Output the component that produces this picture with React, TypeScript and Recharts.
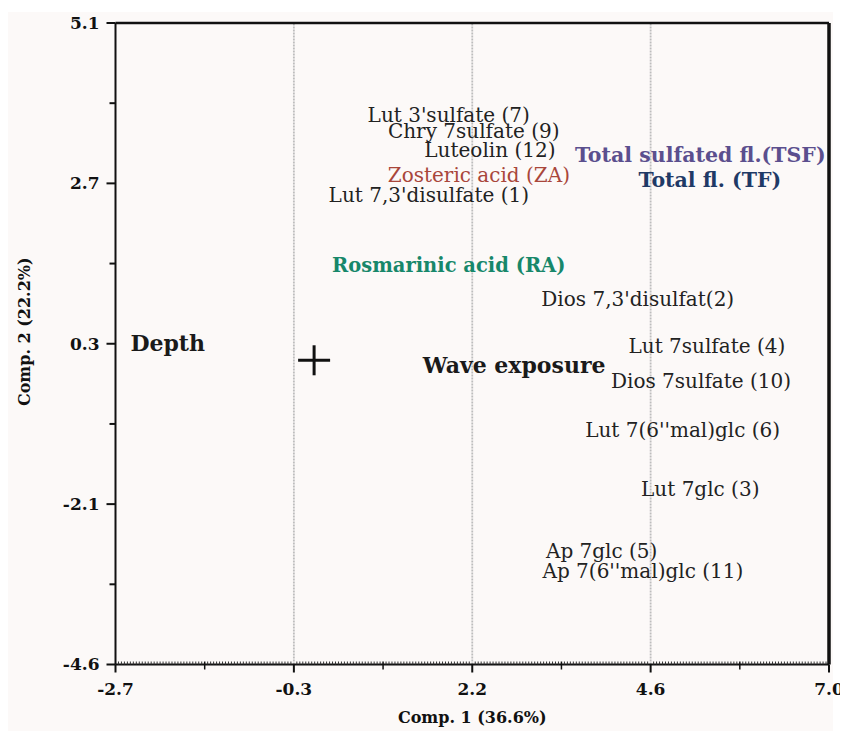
import React from 'react';
import { ScatterChart, Scatter, XAxis, YAxis, ReferenceLine, Label } from 'recharts';

// PCA loadings: compound / variable names with their Comp. 1 and Comp. 2 scores
const variables = [
  "Lut 3'sulfate (7)",
  'Chry 7sulfate (9)',
  'Luteolin (12)',
  'Zosteric acid (ZA)',
  "Lut 7,3'disulfate (1)",
  'Total sulfated fl.(TSF)',
  'Total fl. (TF)',
  'Rosmarinic acid (RA)',
  "Dios 7,3'disulfat(2)",
  'Depth',
  'Wave exposure',
  'Lut 7sulfate (4)',
  'Dios 7sulfate (10)',
  "Lut 7(6''mal)glc (6)",
  'Lut 7glc (3)',
  'Ap 7glc (5)',
  "Ap 7(6''mal)glc (11)",
];
const comp1 = [1.83, 2.17, 2.39, 2.24, 1.56, 5.25, 5.38, 1.83, 4.4, -1.99, 2.72, 5.34, 5.26, 5.01, 5.25, 3.91, 4.47];
const comp2 = [3.71, 3.47, 3.18, 2.8, 2.5, 3.11, 2.73, 1.44, 0.93, 0.25, -0.08, 0.21, -0.32, -1.06, -1.95, -2.88, -3.18];

const origin = [{ x: 0, y: 0 }];

const xTicks = [-2.7, -0.275, 2.15, 4.575, 7.0];
const xTickLabels = ['-2.7', '-0.3', '2.2', '4.6', '7.0'];
const yTicks = [-4.6, -2.175, 0.25, 2.675, 5.1];
const yTickLabels = ['-4.6', '-2.1', '0.3', '2.7', '5.1'];

// label styling (colour / weight / size) by name
const labelStyle: Record<string, { fill: string; bold?: boolean; size?: number }> = {
  'Zosteric acid (ZA)': { fill: '#a9463b' },
  'Total sulfated fl.(TSF)': { fill: '#5b4f8e', bold: true, size: 20.5 },
  'Total fl. (TF)': { fill: '#1f3a66', bold: true, size: 20.5 },
  'Rosmarinic acid (RA)': { fill: '#17876a', bold: true, size: 19.5 },
  Depth: { fill: '#1a1a1a', bold: true, size: 22 },
  'Wave exposure': { fill: '#1a1a1a', bold: true, size: 22 },
};

const FONT = "'DejaVu Serif', serif";

const points = variables.map((name, i) => ({ name, x: comp1[i], y: comp2[i] }));

// axis tick positions: majors plus small subdivisions
const subdivide = (majors: number[], n: number) => {
  const out: number[] = [];
  for (let i = 0; i < majors.length - 1; i++) {
    out.push(majors[i]);
    const step = (majors[i + 1] - majors[i]) / n;
    for (let k = 1; k < n; k++) out.push(majors[i] + k * step);
  }
  out.push(majors[majors.length - 1]);
  return out;
};
const X_SUB = 60;
const xAllTicks = subdivide(xTicks, X_SUB);
const yAllTicks = subdivide(yTicks, 2);

const XTick = (props: any) => {
  const { x, y, payload, index } = props;
  const i = xTicks.indexOf(payload.value);
  if (i >= 0) {
    return (
      <g>
        <line x1={x} x2={x} y1={y} y2={y + 8} stroke="#111" strokeWidth={2} />
        <text x={x} y={y + 30} textAnchor="middle" fontFamily={FONT} fontWeight="bold" fontSize={17} fill="#111">
          {xTickLabels[i]}
        </text>
      </g>
    );
  }
  if (index % X_SUB === X_SUB / 2) {
    return <line x1={x} x2={x} y1={y - 3} y2={y + 5} stroke="#111" strokeWidth={1.5} />;
  }
  return <line x1={x} x2={x} y1={y - 3} y2={y} stroke="#333" strokeWidth={1} />;
};

const YTick = (props: any) => {
  const { x, y, payload } = props;
  const i = yTicks.indexOf(payload.value);
  if (i >= 0) {
    return (
      <g>
        <line x1={x - 9} x2={x} y1={y} y2={y} stroke="#111" strokeWidth={2} />
        <text x={x - 16} y={y} dy="0.35em" textAnchor="end" fontFamily={FONT} fontWeight="bold" fontSize={17} fill="#111">
          {yTickLabels[i]}
        </text>
      </g>
    );
  }
  return <line x1={x - 6} x2={x} y1={y} y2={y} stroke="#111" strokeWidth={2} />;
};

const TextMark = (props: any) => {
  const { cx, cy, payload } = props;
  const st = labelStyle[payload.name] || { fill: '#222' };
  return (
    <text
      x={cx}
      y={cy}
      dy="0.35em"
      textAnchor="middle"
      fontFamily={FONT}
      fontSize={st.size || 20}
      fontWeight={st.bold ? 'bold' : 'normal'}
      fill={st.fill}
    >
      {payload.name}
    </text>
  );
};

const Cross = (props: any) => {
  const { cx, cy } = props;
  return (
    <g stroke="#111" strokeWidth={3}>
      <line x1={cx - 16} x2={cx + 16} y1={cy} y2={cy} />
      <line x1={cx} x2={cx} y1={cy - 15} y2={cy + 15} />
    </g>
  );
};

const App = () => {
  return (
    <div style={{ marginTop: 4, width: 825, height: 719, background: '#fcf9f8', overflow: 'visible' }}>
      <ScatterChart width={840} height={719} margin={{ top: 11, right: 19, left: 7.5, bottom: 6.5 }}>
        <XAxis
          type="number"
          dataKey="x"
          domain={[-2.7, 7.0]}
          ticks={xAllTicks}
          interval={0}
          tick={<XTick />}
          tickSize={0}
          tickMargin={0}
          tickLine={false}
          height={60}
          axisLine={{ stroke: '#111', strokeWidth: 2 }}
          allowDataOverflow
        >
          <Label
            content={(p: any) => {
              const vb = p.viewBox;
              return (
                <text x={vb.x + vb.width / 2} y={vb.y + 53} dy="0.35em" textAnchor="middle" fontFamily={FONT} fontWeight="bold" fontSize={16} fill="#111">
                  Comp. 1 (36.6%)
                </text>
              );
            }}
          />
        </XAxis>
        <YAxis
          type="number"
          dataKey="y"
          domain={[-4.6, 5.1]}
          ticks={yAllTicks}
          interval={0}
          tick={<YTick />}
          tickSize={0}
          tickMargin={0}
          tickLine={false}
          width={100}
          axisLine={{ stroke: '#111', strokeWidth: 2 }}
          allowDataOverflow
        >
          <Label
            content={(p: any) => {
              const vb = p.viewBox;
              const cx = vb.x + 8.5;
              const cy = vb.y + vb.height / 2 - 12;
              return (
                <text x={cx} y={cy} dy="0.35em" textAnchor="middle" transform={`rotate(-90, ${cx}, ${cy})`} fontFamily={FONT} fontWeight="bold" fontSize={16} fill="#111">
                  Comp. 2 (22.2%)
                </text>
              );
            }}
          />
        </YAxis>
        {xTicks.slice(1, -1).map((v) => (
          <ReferenceLine key={v} x={v} stroke="#bdbdbd" strokeWidth={1.8} strokeDasharray="2 1" />
        ))}
        <ReferenceLine y={5.1} stroke="#111" strokeWidth={2.5} />
        <ReferenceLine x={7.0} stroke="#111" strokeWidth={3.5} />
        <Scatter data={points} shape={<TextMark />} isAnimationActive={false} />
        <Scatter data={origin} shape={<Cross />} isAnimationActive={false} />
      </ScatterChart>
    </div>
  );
};

export default App;
